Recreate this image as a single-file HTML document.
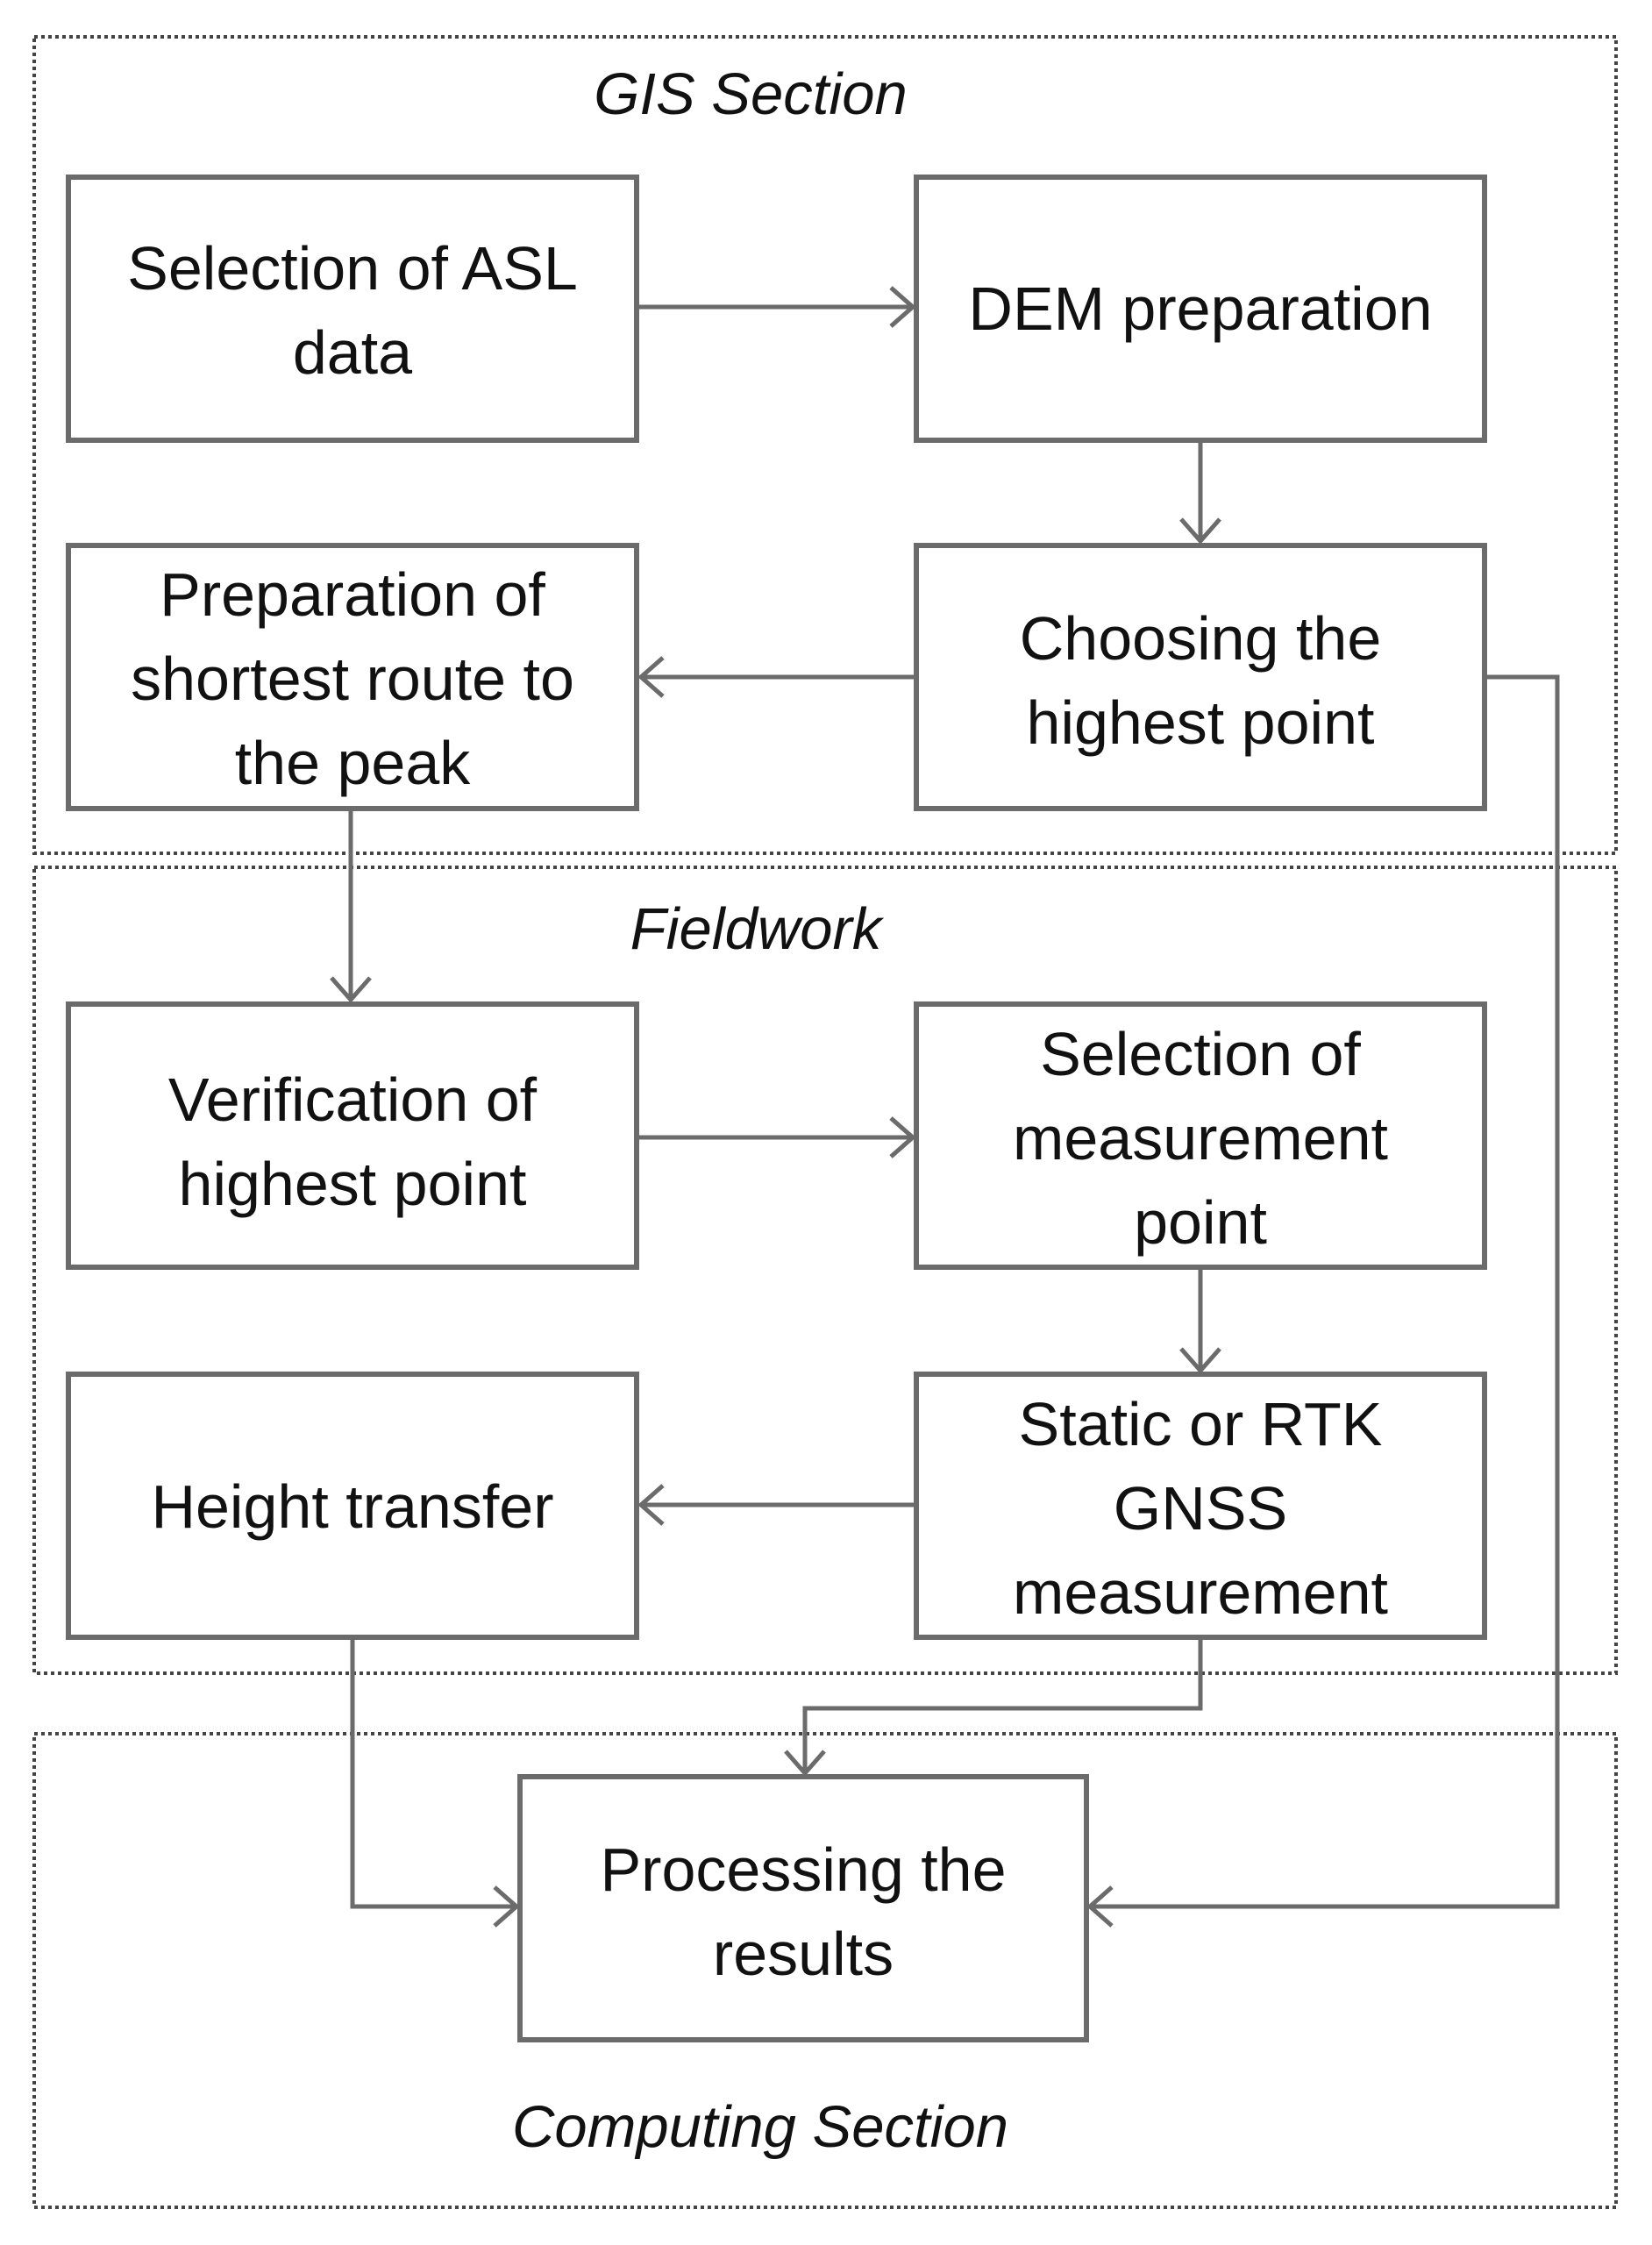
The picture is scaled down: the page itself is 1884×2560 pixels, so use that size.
<!DOCTYPE html>
<html><head><meta charset="utf-8"><style>
html,body{margin:0;padding:0;background:#fff;}
svg{display:block;}
text{font-family:"Liberation Sans",sans-serif;fill:#111;}
.t{font-size:70px;text-anchor:middle;}
.h{font-size:67px;font-style:italic;text-anchor:middle;}
</style></head><body>
<svg width="1884" height="2560" viewBox="0 0 1884 2560" xmlns="http://www.w3.org/2000/svg">
<g fill="none" stroke="#444" stroke-width="4" stroke-dasharray="4 4">
<rect x="39" y="42" width="1804" height="931"/>
<rect x="39" y="989" width="1804" height="919"/>
<rect x="39" y="1977" width="1804" height="540"/>
</g>
<g fill="none" stroke="#6b6b6b" stroke-width="6">
<rect x="78" y="202" width="648" height="300"/>
<rect x="1045" y="202" width="648" height="300"/>
<rect x="78" y="622" width="648" height="300"/>
<rect x="1045" y="622" width="648" height="300"/>
<rect x="78" y="1145" width="648" height="300"/>
<rect x="1045" y="1145" width="648" height="300"/>
<rect x="78" y="1567" width="648" height="300"/>
<rect x="1045" y="1567" width="648" height="300"/>
<rect x="593" y="2026" width="646" height="300"/>
</g>
<g fill="none" stroke="#6b6b6b" stroke-width="5">
<path d="M728 350H1040"/><path d="M1016 328L1041 350L1016 372"/>
<path d="M1369 502V616"/><path d="M1347 592L1369 617L1391 592"/>
<path d="M1045 772H732"/><path d="M756 750L731 772L756 794"/>
<path d="M1693 772H1776V2174H1244"/><path d="M1268 2152L1243 2174L1268 2196"/>
<path d="M400 922V1139"/><path d="M378 1115L400 1140L422 1115"/>
<path d="M728 1297H1040"/><path d="M1016 1275L1041 1297L1016 1319"/>
<path d="M1369 1867V1948H918V2021"/><path d="M896 1997L918 2022L940 1997"/>
<path d="M1369 1445V1562"/><path d="M1347 1538L1369 1563L1391 1538"/>
<path d="M1045 1716H732"/><path d="M756 1694L731 1716L756 1738"/>
<path d="M402 1867V2174H588"/><path d="M564 2152L589 2174L564 2196"/>
</g>
<text class="h" x="856" y="130">GIS Section</text>
<text class="h" x="862" y="1082">Fieldwork</text>
<text class="h" x="867" y="2448">Computing Section</text>
<text class="t" x="402" y="330">Selection of ASL</text>
<text class="t" x="402" y="426">data</text>
<text class="t" x="1369" y="376">DEM preparation</text>
<text class="t" x="402" y="702">Preparation of</text>
<text class="t" x="402" y="798">shortest route to</text>
<text class="t" x="402" y="894">the peak</text>
<text class="t" x="1369" y="752">Choosing the</text>
<text class="t" x="1369" y="848">highest point</text>
<text class="t" x="402" y="1278">Verification of</text>
<text class="t" x="402" y="1374">highest point</text>
<text class="t" x="1369" y="1226">Selection of</text>
<text class="t" x="1369" y="1322">measurement</text>
<text class="t" x="1369" y="1418">point</text>
<text class="t" x="402" y="1742">Height transfer</text>
<text class="t" x="1369" y="1648">Static or RTK</text>
<text class="t" x="1369" y="1744">GNSS</text>
<text class="t" x="1369" y="1840">measurement</text>
<text class="t" x="916" y="2156">Processing the</text>
<text class="t" x="916" y="2252">results</text>
</svg>
</body></html>
